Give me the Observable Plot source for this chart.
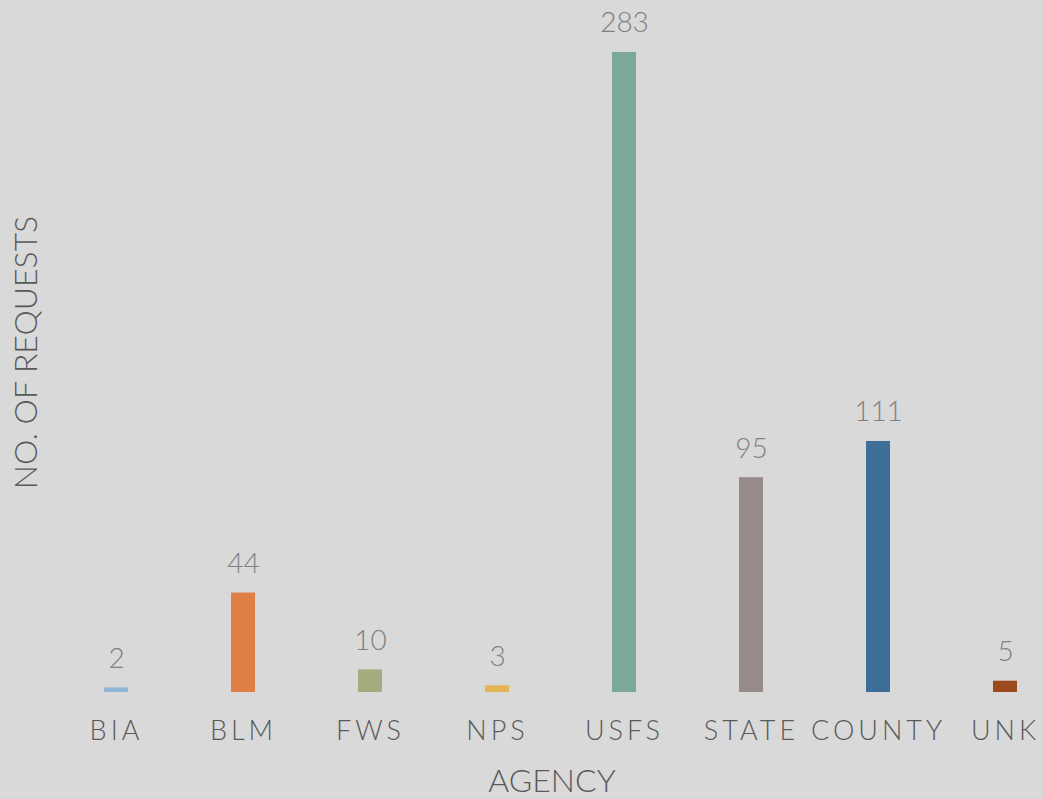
<!DOCTYPE html>
<html>
<head>
<meta charset="utf-8">
<script src="https://cdn.jsdelivr.net/npm/d3@7"></script>
<script src="https://cdn.jsdelivr.net/npm/@observablehq/plot@0.6"></script>
<style>
  html, body { margin: 0; padding: 0; background: #d9d9d9; }
  #chart svg { display: block; }
</style>
</head>
<body>
<div id="chart"></div>
<script>
const agencies = ["BIA", "BLM", "FWS", "NPS", "USFS", "STATE", "COUNTY", "UNK"];
const requests = [2, 44, 10, 3, 283, 95, 111, 5];
const barColors = ["#8fb4d5", "#df8047", "#a2ac7f", "#e3b455", "#7aa99c", "#978c8a", "#3e6e97", "#9c4a1c"];
const xTitle = "AGENCY";
const yTitle = "NO. OF REQUESTS";

const data = agencies.map((a, i) => ({agency: a, value: requests[i], color: barColors[i]}));

const font = "Lato, 'Open Sans', sans-serif";

const chart = Plot.plot({
  width: 1043,
  height: 799,
  marginTop: 52,
  marginBottom: 107,
  marginLeft: 0,
  marginRight: 0,
  style: {background: "#d9d9d9", fontFamily: font, overflow: "hidden"},
  x: {domain: agencies, range: [0, 1121], padding: 0.8115, axis: null},
  y: {domain: [0, 283], nice: false, axis: null},
  marks: [
    Plot.barY(data, {x: "agency", y: "value", fill: "color"}),
    Plot.text(data, {x: "agency", y: "value", text: d => String(d.value), dy: -29,
      fill: "#808080", fontSize: 28, fontWeight: 300, fontFamily: font}),
    Plot.axisX({tickSize: 0, tickPadding: 28, fontSize: 27, fill: "#595959", label: null,
      fontWeight: 300, fontFamily: font, textStroke: "none"}),
    Plot.text([xTitle], {frameAnchor: "bottom", textAnchor: "middle", lineAnchor: "middle",
      dx: 30, dy: 89, fontSize: 32, fill: "#595959", fontWeight: 300, fontFamily: font}),
    Plot.text([yTitle], {frameAnchor: "left", textAnchor: "middle", lineAnchor: "middle",
      rotate: -90, dx: 26, dy: -20, fontSize: 32,
      fill: "#595959", fontWeight: 300, fontFamily: font})
  ]
});
chart.querySelectorAll("g[aria-label='x-axis tick label'] text").forEach(t => t.setAttribute("letter-spacing", "4"));
document.getElementById("chart").appendChild(chart);
</script>
</body>
</html>
